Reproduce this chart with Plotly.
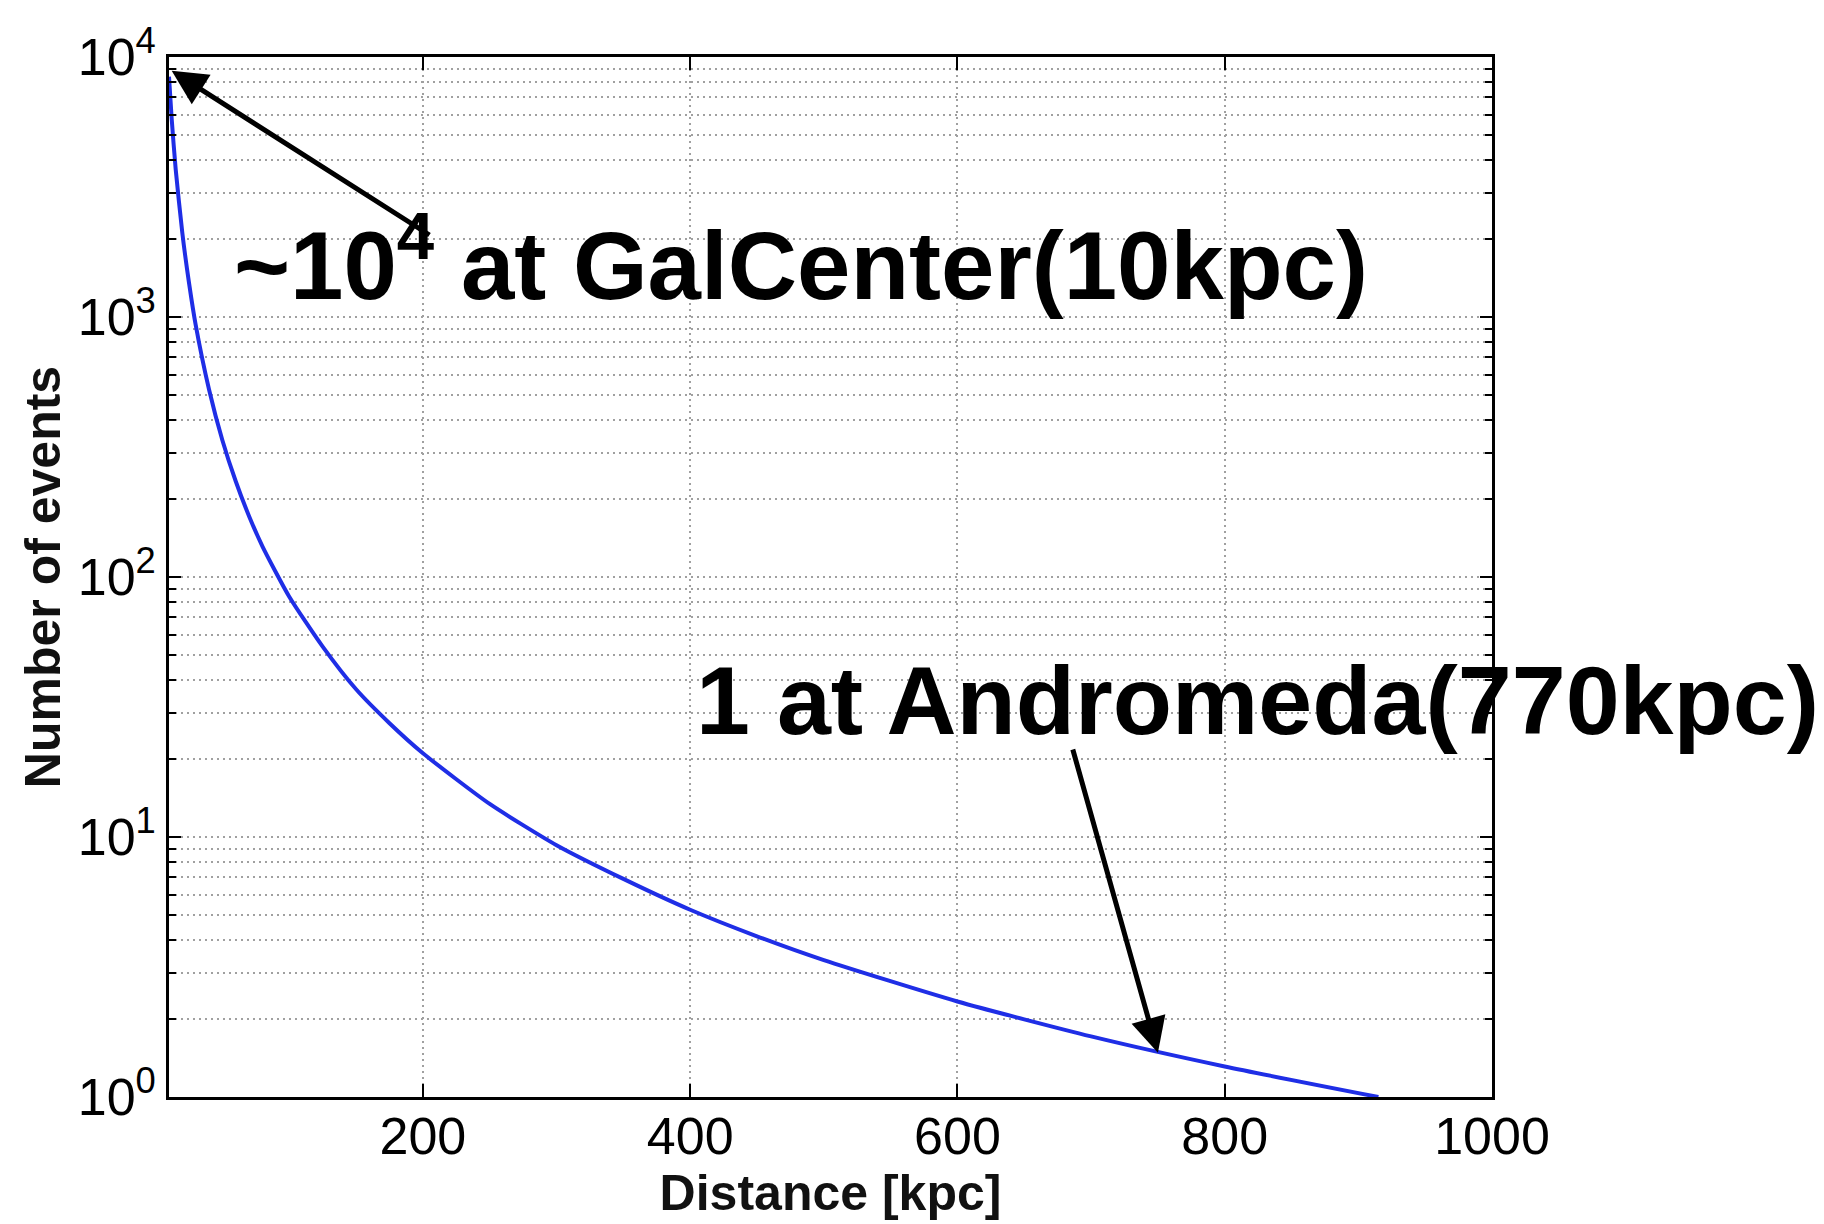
import plotly.graph_objects as go
import math

# Data
distance_kpc = [10, 12, 15, 20, 25, 30, 40, 50, 60, 70, 80, 100, 125, 150, 175, 200,
                250, 300, 350, 400, 450, 500, 600, 700, 800, 915]
num_events = [8400, 5800, 3700, 2100, 1350, 930, 525, 335, 233, 171, 131, 84, 54, 37,
              27.4, 21, 13.4, 9.3, 6.9, 5.25, 4.15, 3.36, 2.33, 1.71, 1.31, 1.0]

x_tickvals = [200, 400, 600, 800, 1000]
x_ticktext = ["200", "400", "600", "800", "1000"]
y_tickvals = [1, 10, 100, 1000, 10000]
y_ticktext = ["10<sup>0</sup>", "10<sup>1</sup>", "10<sup>2</sup>", "10<sup>3</sup>", "10<sup>4</sup>"]
y_minor = [m * 10 ** d for d in range(4) for m in range(2, 10)]

gal_label = "~10<sup>4</sup> at GalCenter(10kpc)"
gal_point = (12, 8850)
gal_tail = (206, 2050)
gal_text_pos = (57, 10 ** 3.225)

andro_label = "1 at Andromeda(770kpc)"
andro_point = (750, 1.48)
andro_tail = (686, 22)
andro_text_pos = (403, 10 ** 1.525)

FONT = "Liberation Sans, Arial, Helvetica, sans-serif"

fig = go.Figure()
fig.add_trace(go.Scatter(
    x=distance_kpc, y=num_events, mode="lines",
    line=dict(color="#1f2ee6", width=4, shape="spline", smoothing=0.6),
    showlegend=False, hoverinfo="skip",
))

axis_common = dict(
    showline=True, linecolor="black", linewidth=2.5, mirror="ticks",
    ticks="inside", tickcolor="black", tickwidth=2,
    showgrid=True, gridcolor="#a0a0a0", griddash="2px,4px", gridwidth=1.5,
    zeroline=False,
    tickfont=dict(family=FONT, size=52, color="black"),
)

fig.update_xaxes(
    range=[10, 1000], tickmode="array", tickvals=x_tickvals, ticktext=x_ticktext,
    ticklen=13, ticklabelstandoff=-8,
    title=dict(text="<b>Distance [kpc]</b>", font=dict(family=FONT, size=50, color="#111"), standoff=0),
    **axis_common,
)
fig.update_yaxes(
    type="log", range=[0, 4], tickmode="array", tickvals=y_tickvals, ticktext=y_ticktext,
    ticklen=12,
    minor=dict(tickmode="array", tickvals=y_minor, ticks="inside", ticklen=7,
               tickcolor="black", tickwidth=2, showgrid=True,
               gridcolor="#a0a0a0", griddash="2px,4px", gridwidth=1.5),
    title=dict(text="<b>Number of events</b>", font=dict(family=FONT, size=50, color="#111"), standoff=2),
    **axis_common,
)

for pt, tail in [(gal_point, gal_tail), (andro_point, andro_tail)]:
    fig.add_annotation(
        x=pt[0], y=math.log10(pt[1]), ax=tail[0], ay=math.log10(tail[1]),
        xref="x", yref="y", axref="x", ayref="y",
        text="", showarrow=True, arrowhead=2, arrowsize=1.4, arrowwidth=5,
        arrowcolor="black", standoff=0,
    )

fig.add_annotation(
    x=gal_text_pos[0], y=math.log10(gal_text_pos[1]), xref="x", yref="y",
    text="<b>" + gal_label + "</b>", showarrow=False, xanchor="left", yanchor="middle",
    font=dict(family=FONT, size=96, color="black"),
)
fig.add_annotation(
    x=andro_text_pos[0], y=math.log10(andro_text_pos[1]), xref="x", yref="y",
    text="<b>" + andro_label + "</b>", showarrow=False, xanchor="left", yanchor="middle",
    font=dict(family=FONT, size=97, color="black"),
)

fig.update_layout(
    width=1824, height=1224,
    margin=dict(l=161, r=340, t=44, b=135),
    paper_bgcolor="white", plot_bgcolor="white",
    font=dict(family=FONT, color="black"),
)

fig.write_html("out.html")
